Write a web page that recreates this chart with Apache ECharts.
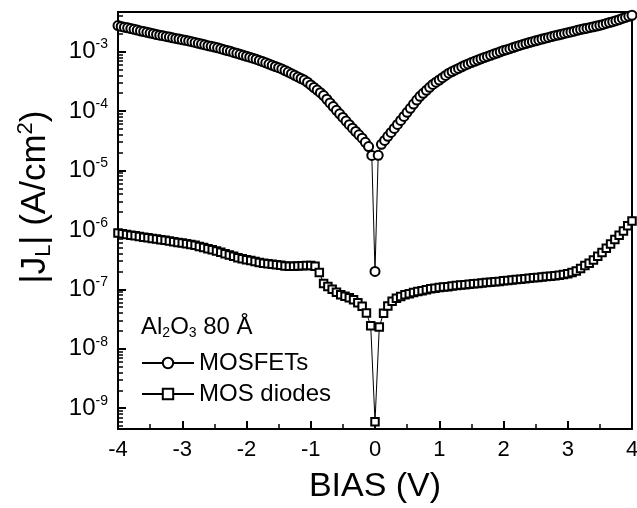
<!DOCTYPE html>
<html>
<head>
<meta charset="utf-8">
<script src="https://cdn.jsdelivr.net/npm/echarts@6/dist/echarts.min.js"></script>
<style>
html, body { margin: 0; padding: 0; background: #fff; }
#container { width: 637px; height: 508px; }
</style>
</head>
<body>
<div id="container"></div>
<script>
// leakage current density vs bias, Al2O3 80 A
var FONT = '"Liberation Sans", Arial, Helvetica, sans-serif';

// MOSFETs: sweep -4 .. 4 V, step 0.05 V
var fetBias = [];
for (var i = 0; i <= 160; i++) fetBias.push(+(-4 + i * 0.05).toFixed(2));
var fetCurrent = [
  2.74e-3, 2.65e-3, 2.58e-3, 2.51e-3, 2.44e-3, 2.37e-3, 2.30e-3, 2.23e-3, 2.17e-3, 2.11e-3, 2.05e-3, 2.00e-3, 1.94e-3,
  1.89e-3, 1.85e-3, 1.80e-3, 1.76e-3, 1.71e-3, 1.67e-3, 1.63e-3, 1.59e-3, 1.55e-3, 1.51e-3,
  1.47e-3, 1.43e-3, 1.38e-3, 1.34e-3, 1.30e-3, 1.26e-3, 1.23e-3, 1.19e-3, 1.16e-3, 1.12e-3,
  1.08e-3, 1.04e-3, 1.01e-3, 9.70e-4, 9.35e-4, 9.02e-4, 8.67e-4, 8.36e-4, 8.05e-4, 7.76e-4,
  7.46e-4, 7.11e-4, 6.79e-4, 6.47e-4, 6.18e-4, 5.89e-4, 5.62e-4, 5.36e-4, 5.11e-4,
  4.81e-4, 4.52e-4, 4.25e-4, 3.99e-4, 3.75e-4, 3.53e-4, 3.32e-4,
  3.05e-4, 2.75e-4, 2.49e-4, 2.25e-4, 2.04e-4,
  1.82e-4, 1.58e-4, 1.37e-4, 1.19e-4, 1.03e-4,
  8.97e-5, 7.80e-5, 6.79e-5, 5.90e-5,
  5.15e-5, 4.53e-5, 3.98e-5, 3.50e-5,
  2.98e-5, 2.53e-5, 1.79e-5,
  2.0e-7,
  1.80e-5, 2.75e-5,
  3.21e-5, 3.75e-5, 4.37e-5,
  5.09e-5, 5.96e-5, 6.95e-5, 8.11e-5,
  9.50e-5, 1.11e-4, 1.31e-4, 1.53e-4,
  1.77e-4, 1.99e-4, 2.23e-4, 2.51e-4,
  2.81e-4, 3.06e-4, 3.33e-4, 3.64e-4, 3.97e-4, 4.34e-4,
  4.61e-4, 4.91e-4, 5.21e-4, 5.55e-4, 5.90e-4,
  6.21e-4, 6.53e-4, 6.86e-4, 7.21e-4, 7.57e-4,
  7.94e-4, 8.30e-4, 8.69e-4, 9.08e-4, 9.48e-4,
  9.91e-4, 1.04e-3, 1.08e-3, 1.12e-3, 1.17e-3,
  1.22e-3, 1.27e-3, 1.32e-3, 1.37e-3, 1.42e-3, 1.47e-3,
  1.52e-3, 1.57e-3, 1.63e-3, 1.68e-3, 1.73e-3,
  1.79e-3, 1.85e-3, 1.90e-3, 1.96e-3, 2.02e-3,
  2.08e-3, 2.14e-3, 2.21e-3, 2.28e-3, 2.35e-3,
  2.42e-3, 2.48e-3, 2.55e-3, 2.62e-3, 2.69e-3,
  2.77e-3, 2.87e-3, 2.98e-3, 3.08e-3, 3.19e-3,
  3.31e-3, 3.45e-3, 3.61e-3, 3.76e-3, 3.93e-3, 4.09e-3
];

// MOS diodes: sweep -4 .. 4 V, 120 steps
var diodeBias = [];
for (var j = 0; j <= 120; j++) diodeBias.push(+(-4 + j / 15).toFixed(4));
var diodeCurrent = [
  8.87e-7, 8.63e-7, 8.40e-7, 8.17e-7, 7.94e-7,
  7.74e-7, 7.55e-7, 7.36e-7, 7.19e-7, 7.02e-7,
  6.84e-7, 6.67e-7, 6.50e-7, 6.34e-7, 6.17e-7,
  6.00e-7, 5.83e-7, 5.68e-7, 5.52e-7, 5.28e-7,
  5.06e-7, 4.84e-7, 4.62e-7, 4.42e-7, 4.20e-7,
  3.98e-7, 3.78e-7, 3.59e-7, 3.40e-7, 3.28e-7,
  3.16e-7, 3.05e-7, 2.94e-7, 2.84e-7, 2.75e-7,
  2.70e-7, 2.64e-7, 2.59e-7, 2.54e-7, 2.48e-7,
  2.44e-7, 2.45e-7, 2.48e-7, 2.49e-7, 2.51e-7,
  2.51e-7, 2.45e-7, 1.93e-7, 1.25e-7, 1.12e-7,
  1.00e-7, 8.97e-8, 8.15e-8, 7.67e-8, 7.23e-8,
  6.71e-8, 5.96e-8, 5.21e-8, 4.01e-8, 2.45e-8,
  5.9e-10,
  2.33e-8, 3.98e-8, 5.25e-8, 6.31e-8, 7.05e-8,
  7.59e-8, 8.13e-8, 8.47e-8, 8.81e-8, 9.18e-8,
  9.51e-8, 9.82e-8, 1.02e-7, 1.04e-7, 1.07e-7,
  1.09e-7, 1.11e-7, 1.14e-7, 1.16e-7, 1.18e-7,
  1.20e-7, 1.22e-7, 1.24e-7, 1.26e-7, 1.28e-7,
  1.30e-7, 1.32e-7, 1.34e-7, 1.36e-7, 1.39e-7,
  1.41e-7, 1.44e-7, 1.46e-7, 1.48e-7, 1.51e-7,
  1.53e-7, 1.56e-7, 1.58e-7, 1.61e-7, 1.64e-7,
  1.66e-7, 1.69e-7, 1.73e-7, 1.77e-7, 1.83e-7,
  1.92e-7, 2.04e-7, 2.24e-7, 2.51e-7, 2.75e-7,
  3.13e-7, 3.59e-7, 4.17e-7, 4.90e-7, 5.82e-7,
  6.92e-7, 8.13e-7, 9.55e-7, 1.17e-6, 1.41e-6
];

var seriesNames = ['MOSFETs', 'MOS diodes'];
var xTicks = [-4, 4, 1];          // min, max, step
var yMin = 4.47e-10, yMax = 4.64e-3;

// minor ticks 2..9 of every decade (placed on a plain value axis in log10 units)
var yMinorTicks = [];
for (var n = -10; n <= -3; n++) {
  for (var k = 2; k <= 9; k++) {
    var v = n + Math.log10(k);
    if (v > Math.log10(yMin) && v < Math.log10(yMax)) yMinorTicks.push(+v.toFixed(4));
  }
}

function pairs(xs, ys) {
  return xs.map(function (x, idx) { return [x, ys[idx]]; });
}

// fresh style object for every axis part
function blk(w) {
  return { color: '#000', width: w || 2 };
}

var dom = document.getElementById('container');
var myChart = echarts.init(dom, null, { renderer: 'canvas' });

var option = {
  animation: false,
  backgroundColor: '#fff',
  grid: { left: 118, right: 5, top: 12, bottom: 79, outerBoundsMode: 'none' },
  xAxis: [
    {
      type: 'value', min: xTicks[0], max: xTicks[1], interval: xTicks[2],
      name: 'BIAS (V)', nameLocation: 'middle', nameGap: 41,
      nameTextStyle: { fontSize: 34, color: '#000', fontFamily: FONT },
      axisLine: { show: true, onZero: false, lineStyle: blk(2) },
      axisTick: { show: true, inside: true, length: 8, lineStyle: blk(2) },
      minorTick: { show: true, splitNumber: 2, length: 5, lineStyle: blk(1.5) },
      axisLabel: { fontSize: 22, color: '#000', fontFamily: FONT, margin: 10 },
      splitLine: { show: false }
    },
    {
      type: 'value', min: xTicks[0], max: xTicks[1], position: 'top',
      axisLine: { show: true, onZero: false, lineStyle: blk(2) },
      axisTick: { show: false }, axisLabel: { show: false }, splitLine: { show: false }
    }
  ],
  yAxis: [
    {
      type: 'log', min: yMin, max: yMax,
      axisLine: { show: true, onZero: false, lineStyle: blk(2) },
      axisTick: { show: true, inside: true, length: 8, lineStyle: blk(2) },
      axisLabel: {
        margin: 10,
        showMinLabel: false,
        showMaxLabel: false,
        formatter: function (val) {
          var e = Math.round(Math.log10(val));
          return '{b|10}{s|' + e + '}';
        },
        rich: {
          b: { fontSize: 24, lineHeight: 28, color: '#000', fontFamily: FONT },
          s: { fontSize: 14, lineHeight: 14, verticalAlign: 'top', color: '#000', fontFamily: FONT }
        }
      },
      splitLine: { show: false }
    },
    {
      type: 'value', min: Math.log10(yMin), max: Math.log10(yMax), position: 'left',
      axisLine: { show: true, onZero: false, lineStyle: blk(2) },
      axisTick: { show: true, inside: true, length: 5, customValues: yMinorTicks, lineStyle: blk(1.5) },
      axisLabel: { show: false },
      splitLine: { show: false }
    },
    {
      type: 'value', min: Math.log10(yMin), max: Math.log10(yMax), position: 'right',
      axisLine: { show: true, onZero: false, lineStyle: blk(2) },
      axisTick: { show: false }, axisLabel: { show: false }, splitLine: { show: false }
    }
  ],
  legend: {
    data: seriesNames,
    orient: 'vertical',
    left: 141,
    top: 351,
    padding: 0,
    itemGap: 7,
    itemWidth: 52,
    itemHeight: 13,
    textStyle: { fontSize: 24, lineHeight: 23, color: '#000', fontFamily: FONT }
  },
  graphic: [
    {
      type: 'text', left: 141, top: 315,
      style: {
        text: '{a|Al}{s|2}{a|O}{s|3}{a| 80 Å}',
        rich: {
          a: { fontSize: 24, lineHeight: 27, fontFamily: FONT, fill: '#000' },
          s: { fontSize: 14, lineHeight: 14, verticalAlign: 'bottom', fontFamily: FONT, fill: '#000' }
        }
      }
    },
    {
      type: 'text', x: 35, y: 197, rotation: Math.PI / 2,
      style: {
        text: '{a||J}{b|L}{a|| (A/cm}{c|2}{a|)}',
        align: 'center', verticalAlign: 'middle',
        textAlign: 'center', textVerticalAlign: 'middle',
        rich: {
          a: { fontSize: 35, lineHeight: 40, fontFamily: FONT, fill: '#000' },
          b: { fontSize: 22, lineHeight: 22, verticalAlign: 'bottom', fontFamily: FONT, fill: '#000' },
          c: { fontSize: 22, lineHeight: 22, verticalAlign: 'top', fontFamily: FONT, fill: '#000' }
        }
      }
    }
  ],
  series: [
    {
      name: seriesNames[0], type: 'line',
      data: pairs(fetBias, fetCurrent),
      symbol: 'emptyCircle', symbolSize: 9,
      itemStyle: { color: '#000', borderColor: '#000', borderWidth: 1.2 },
      lineStyle: { color: '#000', width: 1 },
      emphasis: { disabled: true }
    },
    {
      name: seriesNames[1], type: 'line',
      data: pairs(diodeBias, diodeCurrent),
      symbol: 'emptyRect', symbolSize: 7.5,
      itemStyle: { color: '#000', borderColor: '#000', borderWidth: 1.2 },
      lineStyle: { color: '#000', width: 1 },
      emphasis: { disabled: true }
    }
  ]
};

myChart.setOption(option);
window.addEventListener('resize', function () {
  myChart.resize();
});
</script>
</body>
</html>
